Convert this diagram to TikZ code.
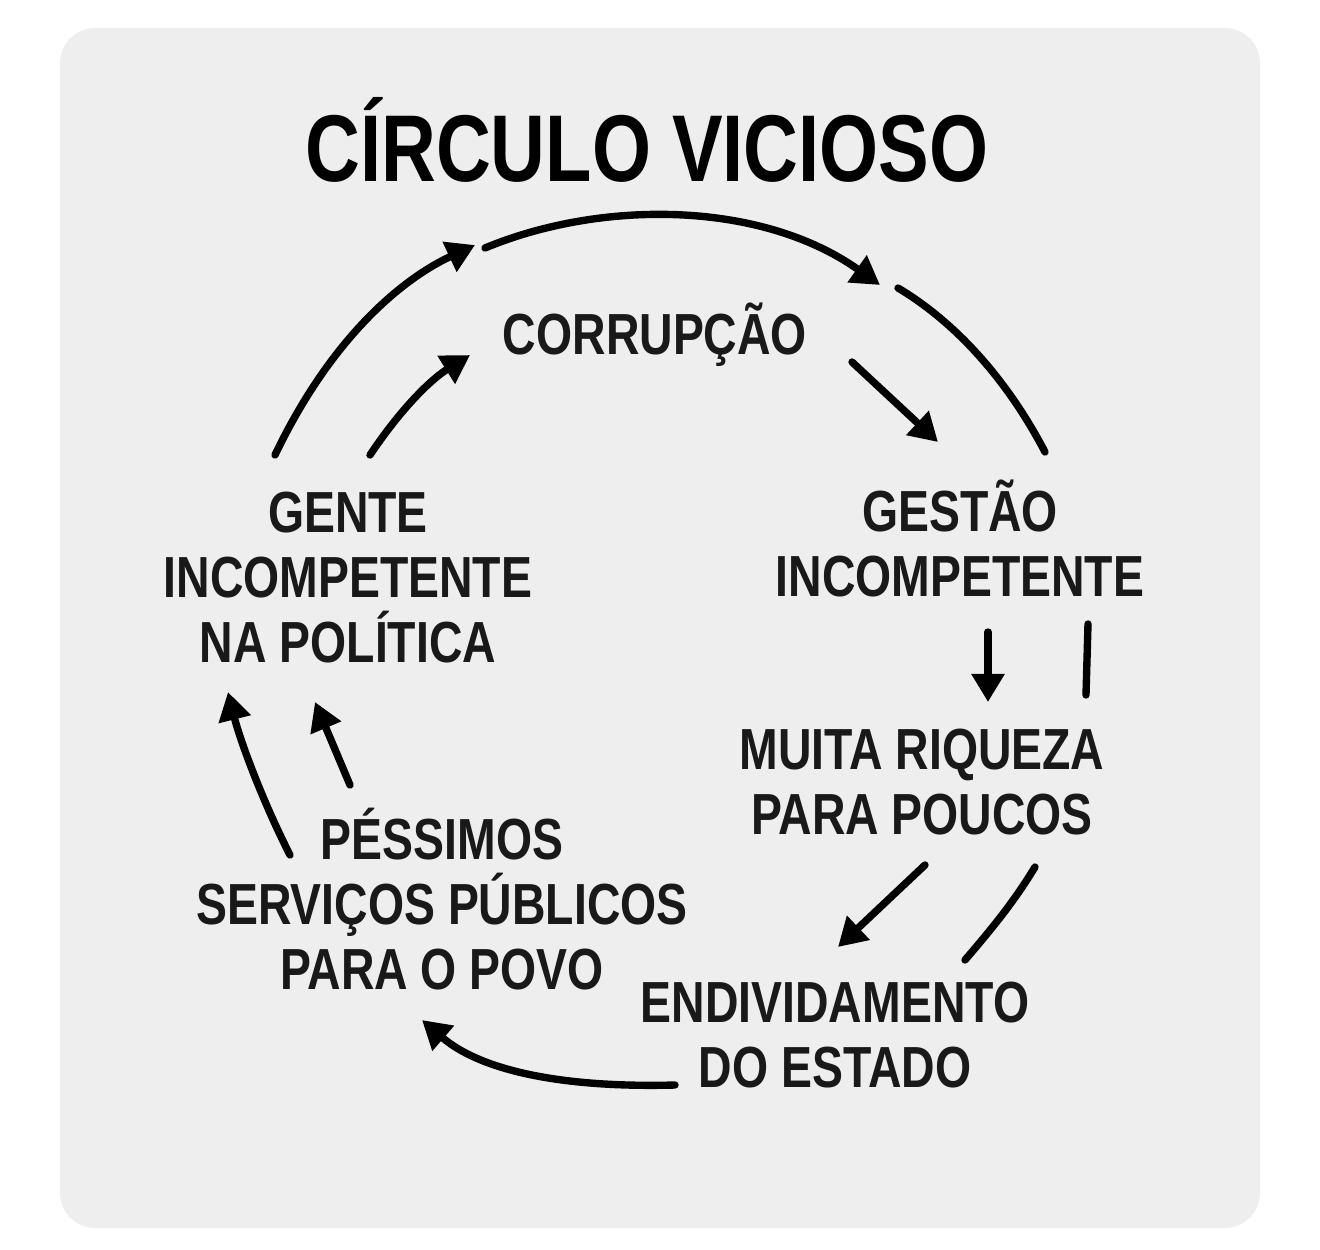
\documentclass[tikz,border=0pt]{standalone}
\usepackage{fontspec}
\setmainfont{Liberation Sans}[FakeStretch=0.8]
\usetikzlibrary{arrows.meta}
\begin{document}
\begin{tikzpicture}[x=0.02cm,y=-0.02cm,
 lbl/.style={font=\bfseries\fontsize{33}{37}\selectfont,align=center,text=black!90},
 ar/.style={line width=4.2pt,-{Triangle[length=16pt,width=18pt]},line cap=round},
 ln/.style={line width=4.2pt,line cap=round}]
\useasboundingbox (0,0) rectangle (1320,1249);
\fill[white] (0,0) rectangle (1320,1249);
\fill[gray!13,rounded corners=20pt] (60,28) rectangle (1260,1228);
\node[font=\bfseries\fontsize{54}{60}\selectfont] (title) at (647,140) {CÍRCULO VICIOSO};
\node[lbl] (c) at (655,335) {CORRUPÇÃO};
\node[lbl] (g) at (960,538) {GESTÃO\\INCOMPETENTE};
\node[lbl] (m) at (922,782) {MUITA RIQUEZA\\PARA POUCOS};
\node[lbl] (e) at (835,1035) {ENDIVIDAMENTO\\DO ESTADO};
\node[lbl] (p) at (442,899) {PÉSSIMOS\\SERVIÇOS PÚBLICOS\\PARA O POVO};
\node[lbl] (n) at (348,578) {GENTE\\INCOMPETENTE\\NA POLÍTICA};
\coordinate (a1) at (275,455); \coordinate (a1e) at (475,245);
\draw[ar] (a1) .. controls (330,340) and (400,280) .. (a1e);
\coordinate (a2) at (370,455); \coordinate (a2e) at (470,355);
\draw[ar] (a2) .. controls (400,410) and (430,380) .. (a2e);
\coordinate (a3) at (485,248); \coordinate (a3e) at (880,285);
\draw[ar] (a3) .. controls (600,200) and (760,200) .. (a3e);
\coordinate (a4) at (898,288); \coordinate (a4e) at (1045,452);
\draw[ln] (a4) .. controls (960,325) and (1010,385) .. (a4e);
\coordinate (a5) at (852,362); \coordinate (a5e) at (938,442);
\draw[ar] (a5) -- (a5e);
\coordinate (a6) at (988,632); \coordinate (a6e) at (988,702);
\draw[ar] (a6) -- (a6e);
\coordinate (a7) at (1088,624); \coordinate (a7e) at (1086,695);
\draw[ln] (a7) -- (a7e);
\coordinate (a8) at (925,865); \coordinate (a8e) at (838,947);
\draw[ar] (a8) -- (a8e);
\coordinate (a9) at (1035,867); \coordinate (a9e) at (965,960);
\draw[ln] (a9) .. controls (1015,900) and (995,925) .. (a9e);
\coordinate (a10) at (675,1085); \coordinate (a10e) at (422,1020);
\draw[ar] (a10) .. controls (560,1088) and (480,1070) .. (a10e);
\coordinate (a11) at (290,855); \coordinate (a11e) at (228,692);
\draw[ar] (a11) .. controls (262,800) and (240,740) .. (a11e);
\coordinate (a12) at (350,785); \coordinate (a12e) at (315,702);
\draw[ar] (a12) -- (a12e);
\end{tikzpicture}
\end{document}
